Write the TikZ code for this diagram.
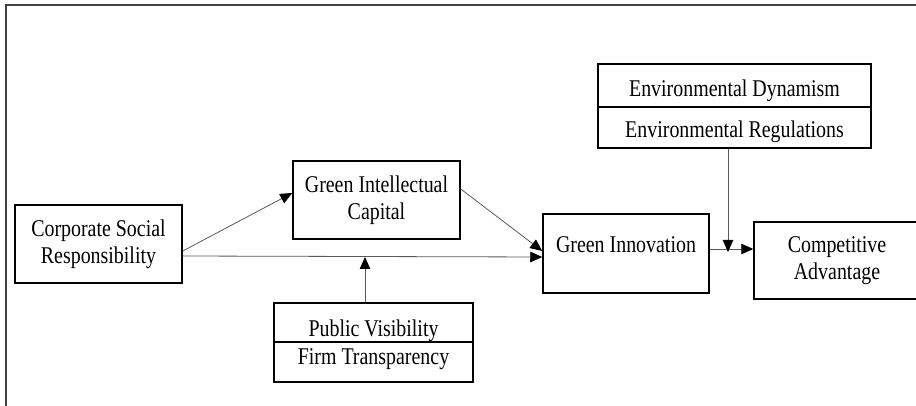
\documentclass[tikz,border=0pt]{standalone}
\usepackage{fontspec}
\setmainfont{Liberation Serif}[FakeStretch=0.83]
\usetikzlibrary{arrows.meta}
\begin{document}
\begin{tikzpicture}[x=1pt,y=-1pt,
  box/.style={draw=black, line width=1.5pt, inner sep=0pt, align=center,
    font=\fontsize{24}{27}\selectfont},
  cell/.style={draw=black, line width=1.5pt, inner sep=0pt},
  txt/.style={font=\fontsize{24}{27}\selectfont, inner sep=0pt},
  arr/.style={draw=black!65, line width=0.8pt,
    -{Triangle[length=12pt,width=10.5pt,fill=black,color=black]}},
  frame/.style={draw=black!75, line width=1.6pt}]
\useasboundingbox (0,0) rectangle (916,406);
\clip (0,0) rectangle (916,406);
% frame
\coordinate (f1) at (6,406);
\coordinate (f2) at (6,5);
\coordinate (f3) at (916,5);
\draw[frame] (f1) -- (f2) -- (f3);
% main boxes
\node[box, minimum width=167pt, minimum height=78pt] (csr) at (98.5,244) {Corporate Social\\Responsibility};
\node[box, minimum width=167pt, minimum height=78pt] (gic) at (376.5,200) {Green Intellectual\\Capital};
\node[box, minimum width=166pt, minimum height=79pt,
  label={[txt, yshift=9pt]center:Green Innovation}] (gi) at (626,253.5) {};
\node[box, minimum width=166pt, minimum height=77pt] (ca) at (837,260.5) {Competitive\\Advantage};
% moderator boxes
\node[cell, minimum width=273pt, minimum height=43pt,
  label={[txt, yshift=-5pt]center:Environmental Dynamism}] (envA) at (734.5,85.5) {};
\node[cell, minimum width=273pt, minimum height=41pt,
  label={[txt, yshift=-4pt]center:Environmental Regulations}] (envB) at (734.5,127.5) {};
\node[cell, minimum width=199pt, minimum height=39pt,
  label={[txt, yshift=-8pt]center:Public Visibility}] (pubA) at (373.5,322.5) {};
\node[cell, minimum width=199pt, minimum height=40pt,
  label={[txt, yshift=3pt]center:Firm Transparency}] (pubB) at (373.5,362) {};
% connectors
\draw[arr] ([yshift=-7pt]csr.east) -- ([yshift=7pt]gic.west);
\draw[arr] ([yshift=-12pt]csr.east) -- ([yshift=-3.5pt]gi.west);
\draw[arr] ([yshift=11pt]gic.east) -- ([yshift=2.5pt]gi.west);
\coordinate (m1) at (365,257);
\draw[arr] ([xshift=-8.5pt]pubA.north) -- (m1);
\draw[arr] ([yshift=4.5pt]gi.east) -- ([yshift=11.5pt]ca.west);
\coordinate (m2) at (728,252);
\draw[arr] ([xshift=-6.5pt]envB.south) -- (m2);
\end{tikzpicture}
\end{document}
